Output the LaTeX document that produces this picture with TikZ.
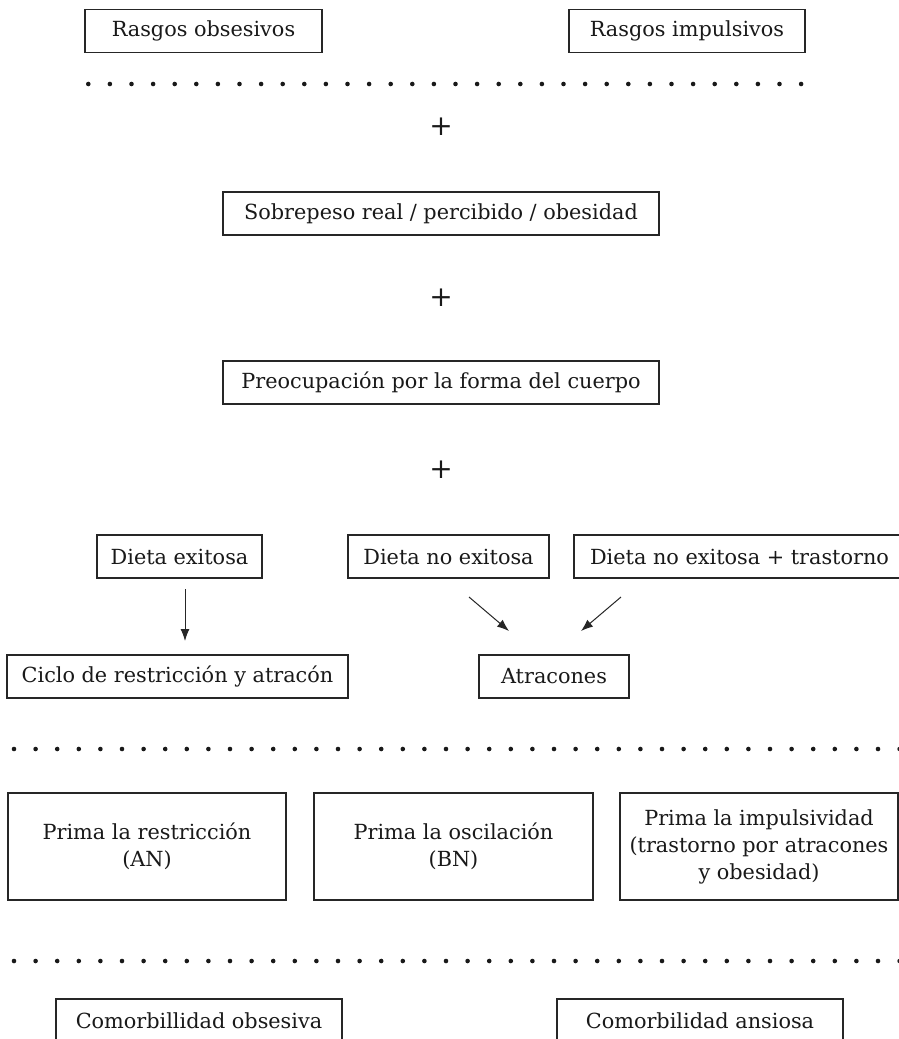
\documentclass[tikz,border=0pt]{standalone}
\usepackage{fontspec}
\setmainfont{DejaVu Serif}
\usetikzlibrary{arrows.meta}
\tikzset{
  box/.style={draw=black!85, line width=1.1pt, rectangle, inner sep=0pt, minimum height=43pt, align=center,
    font=\fontsize{20.8pt}{27pt}\selectfont, text=black!90},
  plus/.style={font=\fontsize{28pt}{30pt}\selectfont, text=black!90, inner sep=0pt},
  conn/.style={draw=black!85, line width=1pt, -{Latex[length=12pt,width=9pt]}},
  dotfill/.style={fill=black!90}
}
\begin{document}
\begin{tikzpicture}[x=1pt,y=-1pt]
\useasboundingbox (0,0) rectangle (899,1039);
\fill[white] (0,0) rectangle (899,1039);
% top boxes
\node[box, minimum width=237pt] (ro) at (203.5,31) {Rasgos obsesivos};
\node[box, minimum width=236pt] (ri) at (687,31) {Rasgos impulsivos};
% dots row 1
\foreach \k in {0,...,33} {\fill[dotfill] (88.3+\k*21.6,84) circle (2.3pt);}
\node[plus] (p1) at (441,127) {+};
\node[box, minimum width=436pt] (sob) at (441,213.5) {Sobrepeso real / percibido / obesidad};
\node[plus] (p2) at (441,298) {+};
\node[box, minimum width=436pt] (pre) at (441,382.5) {Preocupación por la forma del cuerpo};
\node[plus] (p3) at (441,470) {+};
% diet row
\node[box, minimum width=165pt] (de) at (179.5,556.5) {Dieta exitosa};
\node[box, minimum width=201pt] (dne) at (448.5,556.5) {Dieta no exitosa};
\node[box, minimum width=331pt] (dnt) at (739.5,556.5) {Dieta no exitosa + trastorno};
% outcome row
\node[box, minimum width=341pt] (ciclo) at (177.5,676.5) {Ciclo de restricción y atracón};
\node[box, minimum width=150pt] (atr) at (554,676.5) {Atracones};
% arrows
\coordinate (a1s) at (185,589);
\coordinate (a1e) at (185,641);
\coordinate (a2s) at (469,597);
\coordinate (a2e) at (509,631);
\coordinate (a3s) at (621,597);
\coordinate (a3e) at (581,631);
\draw[conn] (a1s) -- (a1e);
\draw[conn] (a2s) -- (a2e);
\draw[conn] (a3s) -- (a3e);
% dots row 2
\foreach \k in {0,...,41} {\fill[dotfill] (14+\k*21.6,749) circle (2.3pt);}
% prima row
\node[box, minimum width=278pt, minimum height=107pt] (pr) at (147,846.5) {Prima la restricción\\(AN)};
\node[box, minimum width=279pt, minimum height=107pt] (po) at (453.5,846.5) {Prima la oscilación\\(BN)};
\node[box, minimum width=278pt, minimum height=107pt] (pi) at (759,846.5) {Prima la impulsividad\\(trastorno por atracones\\y obesidad)};
% dots row 3
\foreach \k in {0,...,41} {\fill[dotfill] (14+\k*21.6,961) circle (2.3pt);}
% comorbidity
\node[box, minimum width=286pt] (co) at (199,1020.5) {Comorbillidad obsesiva};
\node[box, minimum width=286pt] (ca) at (700,1020.5) {Comorbilidad ansiosa};
\end{tikzpicture}
\end{document}
